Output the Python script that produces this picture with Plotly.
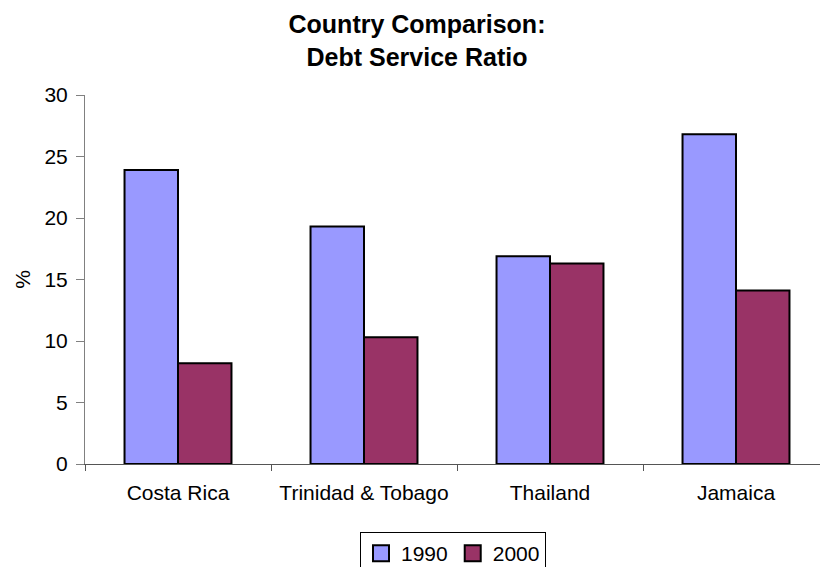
import plotly.graph_objects as go

countries = ["Costa Rica", "Trinidad & Tobago", "Thailand", "Jamaica"]
y1990 = [23.9, 19.3, 16.9, 26.8]
y2000 = [8.2, 10.3, 16.3, 14.1]
series_names = ["1990", "2000"]
colors = ["#9999FF", "#993366"]
y_ticks = [0, 5, 10, 15, 20, 25, 30]

W, H = 820, 567
FONT = "Arial, Liberation Sans, sans-serif"

fig = go.Figure()
for name, vals, col in zip(series_names, [y1990, y2000], colors):
    fig.add_trace(go.Bar(
        x=countries, y=vals, name=name, showlegend=False,
        marker=dict(color=col, line=dict(color="black", width=2)),
    ))
    fig.add_trace(go.Scatter(
        x=[None], y=[None], mode="markers", name=name,
        marker=dict(symbol="square", size=16, color=col,
                    line=dict(color="black", width=2)),
    ))

fig.update_layout(
    width=W, height=H,
    margin=dict(l=85, r=0, t=95, b=103),
    paper_bgcolor="white", plot_bgcolor="white",
    font=dict(family=FONT, size=21, color="black"),
    barmode="group", bargap=0.425, bargroupgap=0,
    title=dict(
        text="<b>Country Comparison:<br>Debt Service Ratio</b>",
        font=dict(size=25, family=FONT, color="black"),
        x=417 / W, xanchor="center", xref="container",
        y=1 - 33 / H, yanchor="top", yref="container",
    ),
    legend=dict(
        orientation="h", xref="container", yref="container",
        x=453 / W, xanchor="center", y=1 - 532 / H, yanchor="top",
        bordercolor="black", borderwidth=1, bgcolor="white",
        font=dict(size=21), itemwidth=30, tracegroupgap=0,
    ),
    xaxis=dict(
        type="category", range=[-0.5, 3.4516],
        showline=True, linecolor="#555555", linewidth=1,
        ticks="outside", tickson="boundaries", ticklen=6, tickcolor="#555555",
        ticklabelstandoff=10,
        showgrid=False, zeroline=False,
    ),
    yaxis=dict(
        range=[0, 30], tickvals=y_ticks,
        showline=True, linecolor="#808080", linewidth=1,
        ticks="outside", ticklen=8, tickcolor="#808080",
        ticklabelstandoff=4,
        showgrid=False, zeroline=False,
        title=dict(text="%", standoff=8, font=dict(size=21)),
    ),
)

fig.write_html("out.html")
